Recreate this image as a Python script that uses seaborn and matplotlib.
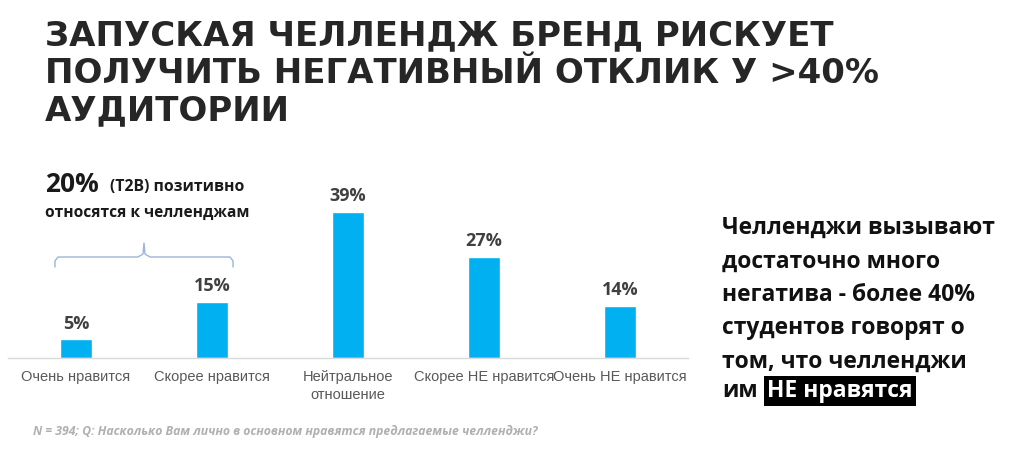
import matplotlib.pyplot as plt
import pandas as pd
import seaborn as sns
from matplotlib.lines import Line2D

sns.set_theme(style="white")
plt.rcParams["font.family"] = ["Open Sans", "DejaVu Sans"]

categories = ["Очень нравится", "Скорее нравится", "Нейтральное\nотношение",
              "Скорее НЕ нравится", "Очень НЕ нравится"]
values = [5, 15, 39, 27, 14]
labels = ["5%", "15%", "39%", "27%", "14%"]

df = pd.DataFrame({"cat": categories, "val": values})

W, H = 1024, 458
fig = plt.figure(figsize=(W / 100, H / 100), dpi=100)

# bar axes: x 8..688 px, baseline at 358 px
ax = fig.add_axes([8 / W, 1 - 358 / H, 680 / W, 208 / H])
sns.barplot(data=df, x="cat", y="val", color="#00B0F0", width=0.235,
            saturation=1, ax=ax)
ax.set_ylim(0, 55.6)
ax.set_xlim(-0.5, 4.5)
for i, (v, t) in enumerate(zip(values, labels)):
    ax.text(i, v + 1.8, t, ha="center", va="bottom", fontsize=13,
            fontweight="bold", color="#404040")
ax.set_xlabel("")
ax.set_ylabel("")
ax.set_yticks([])
ax.tick_params(axis="x", length=0, pad=9, labelcolor="#595959")
for lab in ax.get_xticklabels():
    lab.set_family(["Liberation Sans", "DejaVu Sans"])
    lab.set_fontsize(10.5)
    lab.set_linespacing(1.3)
for s in ["top", "right", "left"]:
    ax.spines[s].set_visible(False)
ax.spines["bottom"].set_color("#D9D9D9")
ax.spines["bottom"].set_linewidth(1)

# title
title = "ЗАПУСКАЯ ЧЕЛЛЕНДЖ БРЕНД РИСКУЕТ\nПОЛУЧИТЬ НЕГАТИВНЫЙ ОТКЛИК У >40%\nАУДИТОРИИ"
fig.text(45 / W, 1 - 19 / H, title, ha="left", va="top", fontsize=24.5,
         fontweight="heavy", color="#262626", linespacing=1.18,
         family=["DejaVu Sans"])

# T2B annotation
fig.text(45 / W, 1 - 185 / H, "20%", ha="left", va="center", fontsize=19,
         fontweight="bold", color="#1a1a1a")
fig.text(110 / W, 1 - 187 / H, "(T2B) позитивно", ha="left", va="center",
         fontsize=11.3, fontweight="bold", color="#1a1a1a")
fig.text(45 / W, 1 - 213 / H, "относятся к челленджам", ha="left",
         va="center", fontsize=11.2, fontweight="bold", color="#1a1a1a")

# bracket
bx = [55, 55, 58, 138, 143, 144, 145, 150, 230, 233, 233]
by = [267, 261, 257, 257, 254, 243, 254, 257, 257, 261, 267]
fig.add_artist(Line2D([x / W for x in bx], [1 - y / H for y in by],
                      color="#9DB5D5", lw=1))

# right-hand comment
right_lines = ["Челленджи вызывают", "достаточно много",
               "негатива - более 40%", "студентов говорят о",
               "том, что челленджи"]
for k, line in enumerate(right_lines):
    fig.text(722 / W, 1 - (228 + 33.5 * k) / H, line, ha="left", va="center",
             fontsize=16.5, fontweight="bold", color="#111111")
y_last = 1 - 391 / H
fig.text(722 / W, y_last, "им", ha="left", va="center", fontsize=16.5,
         fontweight="bold", color="#111111")
fig.text(767 / W, y_last, "НЕ нравятся", ha="left", va="center",
         fontsize=16.5, fontweight="bold", color="white",
         bbox=dict(boxstyle="square,pad=0.15", fc="black", ec="none"))

# footnote
fig.text(33 / W, 1 - 432 / H,
         "N = 394; Q: Насколько Вам лично в основном нравятся предлагаемые челленджи?",
         ha="left", va="center", fontsize=8.8, fontstyle="italic",
         fontweight="bold", color="#B0B0B0")

fig.savefig("out.png", dpi=100)
